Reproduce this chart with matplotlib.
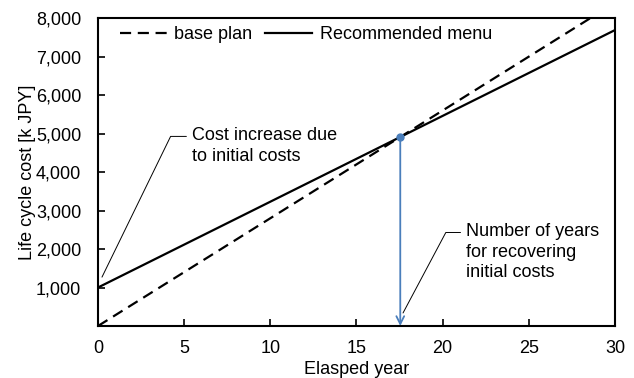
import matplotlib
matplotlib.use("Agg")
import matplotlib.pyplot as plt
from matplotlib.ticker import FuncFormatter

plt.rcParams['font.family'] = ['Liberation Sans', 'DejaVu Sans']

years = [0, 30]
base_plan = [0, 8400]
recommended = [1000, 7690]
payback_year = 17.54
payback_cost = 4912
x_ticks = [0, 5, 10, 15, 20, 25, 30]
y_ticks = [1000, 2000, 3000, 4000, 5000, 6000, 7000, 8000]

FS = 13

fig = plt.figure(figsize=(6.34, 3.78), dpi=100)
ax = fig.add_axes([0.1546, 0.1376, 0.8154, 0.8144])

ax.plot(years, base_plan, color='black', lw=1.6, ls=(0, (5, 3)), label='base plan')
ax.plot(years, recommended, color='black', lw=1.6, label='Recommended menu')

blue = '#4a7ebb'
ax.annotate('', xy=(payback_year, 0), xytext=(payback_year, payback_cost),
            arrowprops=dict(arrowstyle='->', color=blue, lw=1.3, shrinkA=0, shrinkB=0,
                            mutation_scale=14))
ax.plot([payback_year], [payback_cost], 'o', color=blue, ms=5, zorder=5)

ax.annotate('Cost increase due\nto initial costs', xy=(0.23, 1270), xytext=(5.45, 4675),
            fontsize=FS, va='center', ha='left', linespacing=1.25,
            arrowprops=dict(arrowstyle='-', color='black', lw=0.7, shrinkA=2, shrinkB=0,
                            relpos=(0, 0.76),
                            connectionstyle='angle,angleA=0,angleB=64,rad=0'))
ax.annotate('Number of years\nfor recovering\ninitial costs', xy=(17.7, 338), xytext=(21.36, 1922),
            fontsize=FS, va='center', ha='left', linespacing=1.25,
            arrowprops=dict(arrowstyle='-', color='black', lw=0.7, shrinkA=2, shrinkB=0,
                            relpos=(0, 0.84),
                            connectionstyle='angle,angleA=0,angleB=62,rad=0'))

ax.set_xlim(0, 30)
ax.set_ylim(0, 8000)
ax.set_xticks(x_ticks)
ax.set_yticks(y_ticks)
ax.yaxis.set_major_formatter(FuncFormatter(lambda v, p: f'{int(v):,}'))
ax.tick_params(direction='in', length=5, width=1.2, labelsize=FS)
ax.tick_params(axis='x', pad=10)
ax.tick_params(axis='y', pad=12)
for s in ax.spines.values():
    s.set_linewidth(1.5)

ax.set_xlabel('Elasped year', fontsize=FS, labelpad=3)
ax.set_ylabel('Life cycle cost [k JPY]', fontsize=FS, labelpad=0)

ax.legend(loc='upper left', bbox_to_anchor=(0.026, 1.0), ncol=2, frameon=False,
          fontsize=FS, handlelength=2.6, handletextpad=0.4, columnspacing=0.75,
          borderaxespad=0.05)

fig.savefig('out.png', dpi=100)
